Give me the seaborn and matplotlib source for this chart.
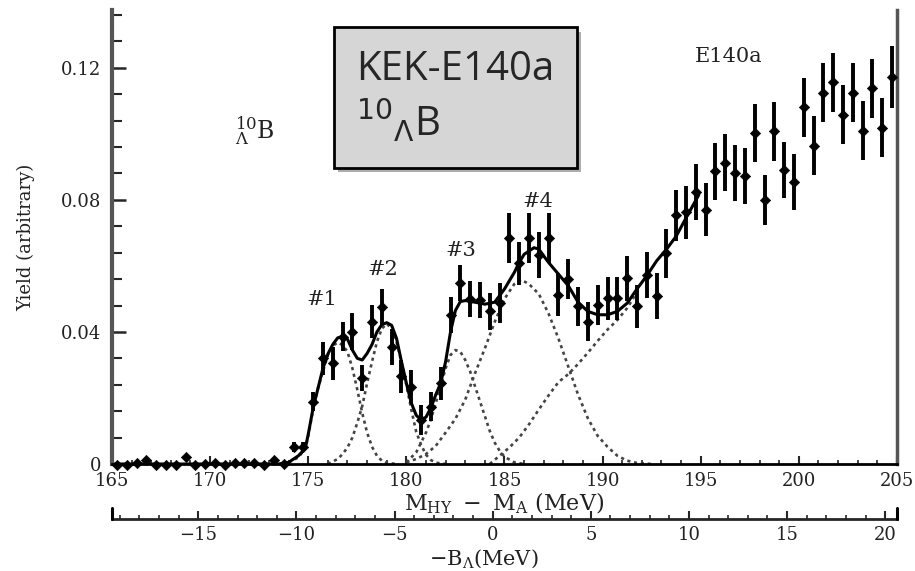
import numpy as np
import pandas as pd
import seaborn as sns
import matplotlib.pyplot as plt
import matplotlib.patheffects as pe
from matplotlib.ticker import MultipleLocator, FixedLocator, FixedFormatter

# 10_Lambda B spectrum, KEK-E140a

mass = [165.25, 165.75, 166.25, 166.75, 167.25, 167.75, 168.25, 168.75, 169.25, 169.75,
        170.25, 170.75, 171.25, 171.75, 172.25, 172.75, 173.25, 173.75, 174.25, 174.75,
        175.25, 175.75, 176.25, 176.75, 177.25, 177.75, 178.25, 178.75, 179.25, 179.75,
        180.25, 180.75, 181.25, 181.75, 182.25, 182.75, 183.25, 183.75, 184.25, 184.75,
        185.25, 185.75, 186.25, 186.75, 187.25, 187.75, 188.25, 188.75, 189.25, 189.75,
        190.25, 190.75, 191.25, 191.75, 192.25, 192.75, 193.25, 193.75, 194.25, 194.75,
        195.25, 195.75, 196.25, 196.75, 197.25, 197.75, 198.25, 198.75, 199.25, 199.75,
        200.25, 200.75, 201.25, 201.75, 202.25, 202.75, 203.25, 203.75, 204.25, 204.75]
yld = [-0.0003, -0.0002, 0.0003, 0.0012, -0.0002, -0.0003, -0.0002, 0.0020, -0.0002, -0.0001,
       0.0003, -0.0004, 0.0002, 0.0002, 0.0002, -0.0004, 0.0013, 0.0001, 0.0052, 0.0052,
       0.0189, 0.0320, 0.0305, 0.0386, 0.0401, 0.0260, 0.0431, 0.0475, 0.0354, 0.0265,
       0.0234, 0.0133, 0.0174, 0.0245, 0.0452, 0.0548, 0.0500, 0.0497, 0.0462, 0.0487,
       0.0684, 0.0608, 0.0684, 0.0633, 0.0684, 0.0512, 0.0560, 0.0477, 0.0431, 0.0482,
       0.0502, 0.0502, 0.0563, 0.0477, 0.0573, 0.0509, 0.0638, 0.0753, 0.0762, 0.0825,
       0.0770, 0.0886, 0.0913, 0.0881, 0.0871, 0.1002, 0.0800, 0.1007, 0.0891, 0.0853,
       0.1080, 0.0964, 0.1125, 0.1156, 0.1058, 0.1125, 0.1010, 0.1138, 0.1019, 0.1172]
err = [0.0005, 0.0005, 0.0005, 0.0005, 0.0005, 0.0005, 0.0005, 0.0005, 0.0005, 0.0005,
       0.0005, 0.0005, 0.0005, 0.0005, 0.0005, 0.0005, 0.0005, 0.0005, 0.0015, 0.0015,
       0.003, 0.005, 0.005, 0.0045, 0.0055, 0.004, 0.005, 0.0055, 0.0055, 0.005,
       0.005, 0.0045, 0.0045, 0.005, 0.0055, 0.0055, 0.0055, 0.0055, 0.0055, 0.006,
       0.0075, 0.0065, 0.0075, 0.007, 0.0075, 0.0065, 0.006, 0.006, 0.006, 0.006,
       0.0065, 0.0065, 0.0068, 0.0065, 0.007, 0.007, 0.0075, 0.0078, 0.008, 0.0085,
       0.008, 0.0085, 0.0085, 0.0085, 0.0085, 0.0088, 0.0075, 0.0088, 0.0085, 0.0085,
       0.009, 0.009, 0.009, 0.009, 0.009, 0.009, 0.009, 0.009, 0.009, 0.0095]

# total fit (solid)
fit_x = [165.0, 173.5, 174.0, 174.5, 174.85, 175.0, 175.25, 175.5, 175.75, 176.0,
         176.25, 176.5, 176.75, 177.0, 177.25, 177.5, 177.75, 178.0, 178.25, 178.5,
         178.75, 179.0, 179.25, 179.5, 179.75, 180.0, 180.25, 180.5, 180.75, 181.0,
         181.25, 181.5, 181.75, 182.0, 182.25, 182.5, 182.75, 183.0, 183.5, 184.0,
         184.5, 185.0, 185.5, 185.75, 186.0, 186.5, 186.75, 187.0, 187.25, 187.75,
         188.25, 188.75, 189.25, 189.75, 190.25, 190.75, 191.25, 191.75, 192.25, 192.75,
         193.25, 193.75, 194.25, 194.9]
fit_y = [0.0, 0.0, 0.0005, 0.0025, 0.0047, 0.009, 0.017, 0.023, 0.029, 0.0333,
         0.0362, 0.0382, 0.0386, 0.0378, 0.0345, 0.032, 0.0315, 0.0335, 0.0362, 0.040,
         0.0422, 0.0428, 0.042, 0.038, 0.031, 0.0245, 0.0185, 0.0148, 0.0133, 0.0142,
         0.017, 0.021, 0.0245, 0.031, 0.040, 0.0465, 0.0492, 0.0495, 0.049, 0.0484,
         0.049, 0.053, 0.058, 0.061, 0.0635, 0.0655, 0.0651, 0.063, 0.061, 0.0575,
         0.054, 0.049, 0.0462, 0.0452, 0.0452, 0.0462, 0.0487, 0.053, 0.057, 0.0615,
         0.065, 0.069, 0.0745, 0.0815]

# peak components (dotted)
peak1_x = [174.0, 174.5, 174.85, 175.0, 175.25, 175.5, 175.75, 176.0, 176.25, 176.5,
           176.75, 177.0, 177.25, 177.5, 177.75, 178.0, 178.25, 178.5, 178.75, 179.0, 179.5]
peak1_y = [0.0005, 0.002, 0.0047, 0.0085, 0.0165, 0.023, 0.028, 0.033, 0.0358, 0.0368,
           0.036, 0.034, 0.029, 0.0225, 0.0155, 0.0095, 0.0052, 0.0025, 0.001, 0.0003, 0.0]
peak2_x = [176.0, 176.5, 176.75, 177.0, 177.25, 177.5, 177.75, 178.0, 178.25, 178.5,
           178.75, 179.0, 179.25, 179.5, 179.75, 180.0, 180.25, 180.5, 180.75, 181.0,
           181.25, 181.5, 182.0]
peak2_y = [0.0, 0.0015, 0.003, 0.005, 0.008, 0.0125, 0.0175, 0.0245, 0.031, 0.037,
           0.041, 0.0425, 0.041, 0.037, 0.031, 0.024, 0.0165, 0.0098, 0.0058, 0.0028,
           0.0012, 0.0004, 0.0]
peak3_x = [180.0, 180.5, 181.0, 181.25, 181.5, 181.75, 182.0, 182.25, 182.5, 182.75,
           183.0, 183.25, 183.5, 183.75, 184.0, 184.25, 184.5, 184.75, 185.0, 185.5, 186.0]
peak3_y = [0.0005, 0.0035, 0.0095, 0.0135, 0.0185, 0.0235, 0.029, 0.033, 0.0345, 0.034,
           0.0315, 0.028, 0.0235, 0.019, 0.0145, 0.010, 0.0065, 0.004, 0.0022, 0.0005, 0.0]
peak4_x = [180.0, 180.5, 181.0, 181.5, 182.0, 182.5, 183.0, 183.5, 184.0, 184.5,
           185.0, 185.5, 185.85, 186.25, 186.75, 187.25, 187.75, 188.25, 188.75, 189.25,
           189.75, 190.25, 190.75, 191.25, 191.75, 192.5]
peak4_y = [0.0005, 0.0015, 0.003, 0.0055, 0.0095, 0.0137, 0.0195, 0.0275, 0.035, 0.043,
           0.050, 0.0545, 0.0558, 0.0545, 0.0515, 0.0455, 0.038, 0.0295, 0.021, 0.0138,
           0.0085, 0.0052, 0.0025, 0.001, 0.0003, 0.0]
bg_x = [184.25, 184.75, 185.25, 185.75, 186.25, 186.75, 187.25, 187.75, 188.25, 188.75,
        189.25, 189.75, 190.25, 190.75, 191.25, 191.75]
bg_y = [0.0, 0.0025, 0.005, 0.008, 0.012, 0.0165, 0.0208, 0.0248, 0.0272, 0.0303,
        0.0337, 0.0373, 0.0407, 0.0436, 0.0472, 0.052]

peak_names = ['#1', '#2', '#3', '#4']
peak_label_x = [175.7, 178.8, 182.8, 186.7]
peak_label_y = [0.0497, 0.0588, 0.0648, 0.0794]

ytick_vals = [0, 0.04, 0.08, 0.12]
ytick_labels = ['0', '0.04', '0.08', '0.12']
btick_vals = [-15, -10, -5, 0, 5, 10, 15, 20]
b_zero = 184.4   # M_HY - M_A where B_Lambda = 0

sns.set_style('ticks')
plt.rcParams['font.family'] = ['DejaVu Serif']
plt.rcParams['mathtext.fontset'] = 'dejavuserif'

fig = plt.figure(figsize=(9.15, 5.71), dpi=100)
ax = fig.add_axes([0.1224, 0.1874, 0.8579, 0.7951])

dot = (0, (1.2, 1.4))
for cx, cy in [(peak1_x, peak1_y), (peak2_x, peak2_y), (peak3_x, peak3_y),
               (peak4_x, peak4_y), (bg_x, bg_y)]:
    sns.lineplot(x=cx, y=cy, ax=ax, color='#444444', lw=1.9, linestyle=dot,
                 sort=False, estimator=None)

sns.lineplot(x=fit_x, y=fit_y, ax=ax, color='black', lw=2.2, sort=False, estimator=None)

ax.errorbar(mass, yld, yerr=err, fmt='none', ecolor='black', elinewidth=2.8, capsize=0)
sns.scatterplot(x=mass, y=yld, ax=ax, marker='D', s=28, color='black',
                edgecolor='black', clip_on=False, zorder=5)

ax.set_xlim(165, 205)
ax.set_ylim(0, 0.1375)

ax.xaxis.set_major_locator(MultipleLocator(5))
ax.xaxis.set_minor_locator(MultipleLocator(1))
ax.yaxis.set_major_locator(FixedLocator(ytick_vals))
ax.yaxis.set_major_formatter(FixedFormatter(ytick_labels))
ax.yaxis.set_minor_locator(MultipleLocator(0.008))

ax.tick_params(axis='x', which='major', direction='in', length=6, width=1.5,
               labelsize=13, pad=6, labelcolor='#222222')
ax.tick_params(axis='x', which='minor', direction='in', length=3, width=1.2)
ax.tick_params(axis='y', which='major', direction='in', length=10, width=1.8,
               labelsize=13, pad=8, labelcolor='#222222')
ax.tick_params(axis='y', which='minor', direction='in', length=7, width=1.5)

ax.spines['top'].set_visible(False)
ax.spines['left'].set_color('#555555')
ax.spines['left'].set_linewidth(3)
ax.spines['right'].set_color('#555555')
ax.spines['right'].set_linewidth(2.5)
ax.spines['bottom'].set_color('black')
ax.spines['bottom'].set_linewidth(2)

ax.set_ylabel('Yield (arbitrary)', fontsize=13, color='#222222')
ax.yaxis.set_label_coords(-0.098, 0.5)
ax.set_xlabel(r'$\mathrm{M_{HY}\ -\ M_{A}\ (MeV)}$', fontsize=16, color='#222222')
ax.xaxis.set_label_coords(0.5, -0.058)

# -B_Lambda scale
sec = ax.secondary_xaxis(-0.121, functions=(lambda m: m - b_zero, lambda b: b + b_zero))
sec.xaxis.set_major_locator(FixedLocator(btick_vals))
sec.xaxis.set_minor_locator(MultipleLocator(1))
sec.tick_params(axis='x', which='major', direction='in', length=6, width=1.5,
                labelsize=13, pad=5, labelcolor='#222222')
sec.tick_params(axis='x', which='minor', direction='in', length=3, width=1.2)
sec.spines['bottom'].set_linewidth(2)
for xe in ax.get_xlim():
    ax.axvline(xe, ymin=-0.121, ymax=-0.097, color='black', lw=2.2, clip_on=False)
ax.text(0.474, -0.183, r'$-\mathrm{B_{\Lambda}(MeV)}$', transform=ax.transAxes,
        ha='center', va='top', fontsize=15, color='#222222')

for name, px, py in zip(peak_names, peak_label_x, peak_label_y):
    ax.text(px, py, name, ha='center', va='center', fontsize=15, color='#222222')

ax.text(196.4, 0.1233, 'E140a', ha='center', va='center', fontsize=15, color='#222222')
ax.text(172.3, 0.101, r'${}^{10}_{\Lambda}\mathrm{B}$', ha='center', va='center',
        fontsize=17, color='#222222')

box = ax.text(177.45, 0.1255, 'KEK-E140a\n' + r'$^{10}{}_{\Lambda}$' + 'B',
              ha='left', va='top', fontsize=29, family='Open Sans',
              math_fontfamily='dejavusans', linespacing=1.2,
              bbox=dict(boxstyle='square,pad=0.55', facecolor='#d6d6d6',
                        edgecolor='black', lw=2))
box.get_bbox_patch().set_path_effects(
    [pe.withSimplePatchShadow(offset=(3, -3), shadow_rgbFace='#777777', alpha=0.6)])

fig.savefig('out.png', dpi=100)
